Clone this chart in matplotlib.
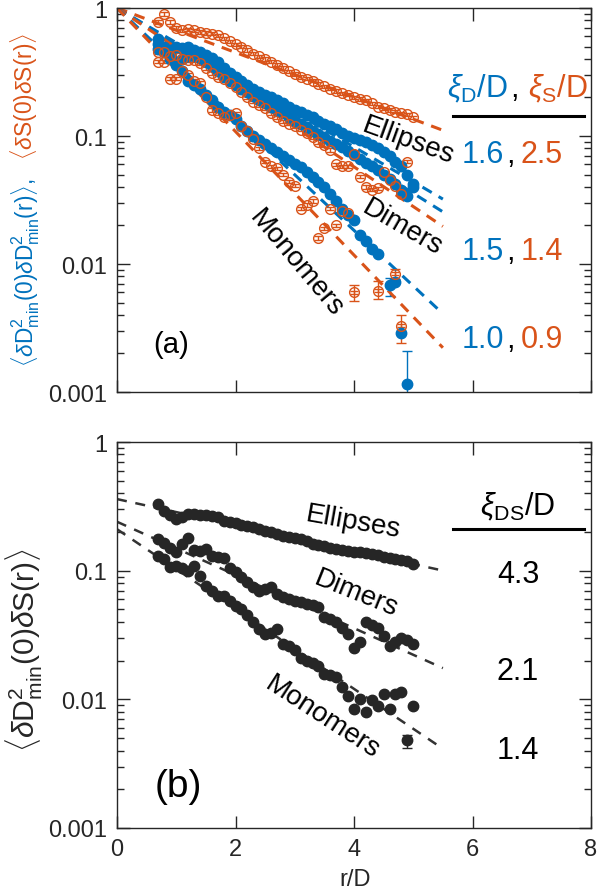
import numpy as np
import matplotlib
matplotlib.use('Agg')
import matplotlib.pyplot as plt
from matplotlib import font_manager
from matplotlib.lines import Line2D
from matplotlib.ticker import LogLocator, NullFormatter
#plotting libraries

names = {f.name for f in font_manager.fontManager.ttflist}
base_font = 'Liberation Sans Narrow' if 'Liberation Sans Narrow' in names else 'Liberation Sans'
plt.rcParams['font.family'] = [base_font, 'DejaVu Sans']
plt.rcParams['mathtext.fontset'] = 'custom'
plt.rcParams['mathtext.rm'] = 'Liberation Sans'
plt.rcParams['mathtext.it'] = 'Liberation Sans:italic'
plt.rcParams['mathtext.bf'] = 'Liberation Sans:bold'
#narrow arial like font for the texts, normal width inside the math text

# ---- data ----
r = [0.7, 0.8, 0.9, 1.0, 1.1, 1.2, 1.3, 1.4, 1.5, 1.6, 1.7, 1.8, 1.9, 2.0, 2.1,
     2.2, 2.3, 2.4, 2.5, 2.6, 2.7, 2.8, 2.9, 3.0, 3.1, 3.2, 3.3, 3.4, 3.5, 3.6,
     3.7, 3.8, 3.9, 4.0, 4.1, 4.2, 4.3, 4.4, 4.5, 4.6, 4.7, 4.8, 4.9, 5.0]

nan = np.nan
#panel (a), D2min correlation (blue)
ell_D = [0.57, 0.50, 0.47, 0.50, 0.49, 0.50, 0.47, 0.45, 0.43, 0.41, 0.38, 0.34, 0.31, 0.29, 0.27,
         0.25, 0.235, 0.22, 0.21, 0.20, 0.19, 0.18, 0.17, 0.16, 0.155, 0.145, 0.14, 0.13, 0.125, 0.12,
         0.113, 0.105, 0.10, 0.097, 0.093, 0.09, 0.085, 0.08, 0.075, 0.07, 0.063, 0.058, 0.05, 0.042]
dim_D = [0.48, 0.45, 0.42, 0.38, 0.40, 0.42, 0.42, 0.41, 0.38, 0.35, 0.32, 0.29, 0.27, 0.25, 0.235,
         0.22, 0.205, 0.19, 0.18, 0.17, 0.16, 0.15, 0.14, 0.132, 0.125, 0.118, 0.11, 0.104, 0.098, 0.092,
         0.087, 0.082, 0.076, 0.071, 0.066, 0.062, 0.058, 0.054, 0.05, 0.046, 0.042, 0.038, 0.034, 0.04]
mono_D = [0.52, 0.46, 0.40, 0.36, 0.32, 0.27, 0.25, 0.235, 0.21, 0.19, 0.17, 0.155, 0.145, 0.135, 0.12,
          0.11, 0.10, 0.093, 0.087, 0.08, 0.075, 0.07, 0.065, 0.06, 0.057, 0.052, 0.048, 0.044, 0.04, 0.035,
          0.031, 0.027, 0.024, 0.022, 0.017, 0.015, 0.013, 0.012, nan, 0.0068, 0.0072, 0.0029, 0.00115, nan]
#panel (a), S correlation (orange)
ell_S = [0.78, 0.90, 0.78, 0.70, 0.67, 0.68, 0.67, 0.65, 0.64, 0.63, 0.61, 0.58, 0.55, 0.52, 0.50,
         0.47, 0.44, 0.42, 0.40, 0.38, 0.36, 0.34, 0.32, 0.305, 0.29, 0.28, 0.27, 0.255, 0.245, 0.235,
         0.225, 0.215, 0.21, 0.20, 0.195, 0.19, 0.18, 0.17, 0.165, 0.16, 0.155, 0.15, 0.148, 0.14]
dim_S = [0.45, 0.38, 0.42, 0.43, 0.40, 0.39, 0.39, 0.37, 0.34, 0.31, 0.29, 0.28, 0.26, 0.24, 0.22,
         0.20, 0.185, 0.175, 0.165, 0.15, 0.14, 0.13, 0.125, 0.12, 0.112, 0.105, 0.098, 0.09, 0.085, 0.078,
         0.06, 0.058, 0.058, 0.072, 0.048, 0.04, 0.038, 0.039, 0.052, 0.045, 0.041, 0.035, 0.063, nan]
mono_S = [0.38, 0.45, 0.28, 0.28, 0.32, 0.30, 0.27, 0.26, 0.20, 0.16, 0.15, 0.14, 0.145, 0.15, 0.12,
          0.11, 0.095, 0.08, 0.063, 0.058, 0.056, 0.05, 0.044, 0.041, 0.027, 0.029, 0.031, 0.016, 0.019, 0.027,
          0.02, 0.026, 0.025, 0.006, nan, nan, nan, 0.0062, nan, nan, 0.0084, 0.0033, nan, nan]
#panel (b), cross correlation (black)
ell_DS = [0.33, 0.29, 0.27, 0.25, 0.26, 0.275, 0.275, 0.272, 0.27, 0.265, 0.26, 0.245, 0.24, 0.235, 0.228,
          0.222, 0.218, 0.212, 0.205, 0.198, 0.192, 0.186, 0.182, 0.18, 0.177, 0.17, 0.162, 0.157, 0.155, 0.15,
          0.147, 0.145, 0.142, 0.14, 0.14, 0.138, 0.135, 0.132, 0.128, 0.125, 0.123, 0.121, 0.119, 0.112]
dim_DS = [0.175, 0.165, 0.15, 0.14, 0.16, 0.18, 0.145, 0.142, 0.148, 0.13, 0.128, 0.125, 0.105, 0.097, 0.09,
          0.082, 0.075, 0.07, 0.072, 0.074, 0.066, 0.062, 0.06, 0.058, 0.057, 0.055, 0.054, 0.052, 0.044, 0.042,
          0.04, 0.036, 0.032, 0.025, 0.028, 0.04, 0.038, 0.036, 0.031, 0.026, 0.028, 0.03, 0.029, 0.027]
mono_DS = [0.13, 0.123, 0.107, 0.109, 0.105, 0.10, 0.109, 0.091, 0.076, 0.07, 0.064, 0.064, 0.058, 0.053, 0.05,
           0.045, 0.04, 0.035, 0.032, 0.033, 0.035, 0.027, 0.026, 0.024, 0.021, 0.02, 0.019, 0.018, 0.0157, 0.0155,
           0.015, 0.0125, 0.0106, 0.0084, 0.01, 0.008, 0.0098, 0.0089, 0.011, 0.0084, 0.011, 0.0114, 0.0048, 0.0088]

#the few large error bars at the noisy tail (x, y, lower end, upper end)
tailD_x = [4.6, 4.9]
tailD_y = [0.0068, 0.00115]
tailD_lo = [0.0056, 0.0008]
tailD_hi = [0.0078, 0.0021]
tailS_x = [4.0, 4.4, 4.7, 4.8]
tailS_y = [0.006, 0.0062, 0.0084, 0.0033]
tailS_lo = [0.0051, 0.0053, 0.0077, 0.0024]
tailS_hi = [0.0069, 0.0074, 0.0092, 0.0040]
tailDS_x = [4.9]
tailDS_y = [0.0048]
tailDS_lo = [0.0042]
tailDS_hi = [0.0053]

#correlation lengths from the tables and prefactors of the fits in (b)
xi_D = [1.6, 1.5, 1.0]
xi_S = [2.5, 1.4, 0.9]
xi_DS = [4.3, 2.1, 1.4]
amp_DS = [0.36, 0.24, 0.21]

blue = '#0072BD'
orange = '#D95319'
dark = '#262626'
rel_err = 0.03 #small error bars drawn on every point, give the line through the circles

W, H = 599, 895
fig = plt.figure(figsize=(W / 100, H / 100), dpi=100)
ax1 = fig.add_axes([117 / W, 1 - 393 / H, 474 / W, 384 / H])
ax2 = fig.add_axes([117 / W, 1 - 829 / H, 474 / W, 386 / H])


def style_axis(ax):
    #matlab like log axis with ticks inside on all four sides
    ax.set_yscale('log')
    ax.set_xlim(0, 8)
    ax.set_ylim(0.001, 1)
    ax.set_xticks([0, 2, 4, 6, 8])
    ax.set_yticks([0.001, 0.01, 0.1, 1])
    ax.set_yticklabels(['0.001', '0.01', '0.1', '1'])
    ax.yaxis.set_minor_locator(LogLocator(base=10, subs=np.arange(2, 10)))
    ax.yaxis.set_minor_formatter(NullFormatter())
    ax.tick_params(which='both', direction='in', top=True, right=True, colors=dark, labelsize=17)
    ax.tick_params(which='major', length=9, width=1, pad=7)
    ax.tick_params(which='minor', length=5, width=1)
    for s in ax.spines.values():
        s.set_color(dark)
        s.set_linewidth(1)


style_axis(ax1)
style_axis(ax2)
ax1.tick_params(labelbottom=False)

rx = np.array(r)
r_fit = np.linspace(0, 5.5, 100)

# ---- panel (a) ----
for y in [ell_D, dim_D, mono_D]:
    y = np.array(y)
    ax1.errorbar(rx, y, yerr=rel_err * y, fmt='o', ms=7.5, mfc=blue, mec=blue,
                 ecolor=blue, elinewidth=1, capsize=3)
ax1.errorbar(tailD_x, tailD_y, yerr=[np.subtract(tailD_y, tailD_lo), np.subtract(tailD_hi, tailD_y)],
             fmt='none', ecolor=blue, elinewidth=1, capsize=3.5)
for y in [ell_S, dim_S, mono_S]:
    y = np.array(y)
    ax1.errorbar(rx, y, yerr=rel_err * y, fmt='o', ms=7, mfc='none', mec=orange, mew=1,
                 ecolor=orange, elinewidth=1, capsize=3)
ax1.errorbar(tailS_x, tailS_y, yerr=[np.subtract(tailS_y, tailS_lo), np.subtract(tailS_hi, tailS_y)],
             fmt='none', ecolor=orange, elinewidth=1, capsize=3.5)
for xd, xs in zip(xi_D, xi_S):
    ax1.plot(r_fit, np.exp(-r_fit / xd), '--', color=blue, lw=2.2, dashes=(3.5, 2.6))
    ax1.plot(r_fit, np.exp(-r_fit / xs), '--', color=orange, lw=2.2, dashes=(3.5, 2.6))
#exponential fits exp(-r/xi)

ax1.text(4.92, 0.093, 'Ellipses', rotation=-20, fontsize=20, ha='center', va='center')
ax1.text(4.82, 0.0195, 'Dimers', rotation=-30, fontsize=20, ha='center', va='center')
ax1.text(3.02, 0.0102, 'Monomers', rotation=-50, fontsize=20, ha='center', va='center')
ax1.text(0.91, 0.00237, '(a)', fontsize=21, ha='center', va='center')

# ---- panel (b) ----
for y in [ell_DS, dim_DS, mono_DS]:
    y = np.array(y)
    ax2.errorbar(rx, y, yerr=rel_err * y, fmt='o', ms=7.5, mfc=dark, mec=dark,
                 ecolor=dark, elinewidth=1, capsize=3)
ax2.errorbar(tailDS_x, tailDS_y, yerr=[np.subtract(tailDS_y, tailDS_lo), np.subtract(tailDS_hi, tailDS_y)],
             fmt='none', ecolor=dark, elinewidth=1, capsize=3.5)
for a, xi in zip(amp_DS, xi_DS):
    ax2.plot(r_fit, a * np.exp(-r_fit / xi), '--', color='#333333', lw=1.8, dashes=(4, 3.5))

ax2.text(3.98, 0.239, 'Ellipses', rotation=-10, fontsize=20, ha='center', va='center')
ax2.text(4.03, 0.067, 'Dimers', rotation=-22, fontsize=20, ha='center', va='center')
ax2.text(3.47, 0.0073, 'Monomers', rotation=-33, fontsize=20, ha='center', va='center')
ax2.text(1.03, 0.00212, '(b)', fontsize=28, ha='center', va='center')


def ftext(px, py, s, **kw):
    #text placed in figure pixels (origin top left like the picture)
    return fig.text(px / W, 1 - py / H, s, **kw)


# ---- tables on the right ----
ftext(508, 97, r'$\xi_{\mathrm{D}}$/D', color=blue, fontsize=22, ha='right', va='baseline')
ftext(510, 97, ',', color='k', fontsize=22, ha='left', va='baseline')
ftext(528, 97, r'$\xi_{\mathrm{S}}$/D', color=orange, fontsize=22, ha='left', va='baseline')
fig.add_artist(Line2D([453 / W, 584 / W], [1 - 117 / H] * 2, color='k', lw=2.2))
for xd, xs, py in zip(xi_D, xi_S, [163, 260, 348]):
    ftext(504, py, f'{xd:.1f}', color=blue, fontsize=22, ha='right', va='baseline')
    ftext(506, py, ',', color='k', fontsize=22, ha='left', va='baseline')
    ftext(521, py, f'{xs:.1f}', color=orange, fontsize=22, ha='left', va='baseline')

ftext(518, 515, r'$\xi_{\mathrm{DS}}$/D', color='k', fontsize=22, ha='center', va='baseline')
fig.add_artist(Line2D([453 / W, 584 / W], [1 - 530 / H] * 2, color='k', lw=2.2))
for xi, py in zip(xi_DS, [583, 680, 759]):
    ftext(518, py, f'{xi:.1f}', color='k', fontsize=22, ha='center', va='baseline')

# ---- axis labels ----
lab_blue = ftext(33, 367, r'$\langle\delta\mathrm{D}^2_{\mathrm{min}}(0)\delta\mathrm{D}^2_{\mathrm{min}}(\mathrm{r})\rangle$,',
                 color=blue, fontsize=16, rotation=90, rotation_mode='anchor', ha='left', va='baseline')
lab_orange = ftext(33, 33, r'$\langle\delta\mathrm{S}(0)\delta\mathrm{S}(\mathrm{r})\rangle$',
                   color=orange, fontsize=18, rotation=90, rotation_mode='anchor', ha='right', va='baseline')
lab_b = ftext(35, 650, r'$\langle\delta\mathrm{D}^2_{\mathrm{min}}(0)\delta\mathrm{S}(\mathrm{r})\rangle$',
              color=dark, fontsize=19, rotation=90, rotation_mode='anchor', ha='center', va='baseline')
ftext(355, 880, 'r/D', color=dark, fontsize=17, ha='center', va='center')

#scale the vertical labels so they run over the same length as in the picture
renderer = fig.canvas.get_renderer()
for t, length in [(lab_blue, 189), (lab_orange, 127), (lab_b, 204)]:
    h = t.get_window_extent(renderer=renderer).height
    t.set_fontsize(t.get_fontsize() * length / h)

plt.savefig('out.png', dpi=100)
